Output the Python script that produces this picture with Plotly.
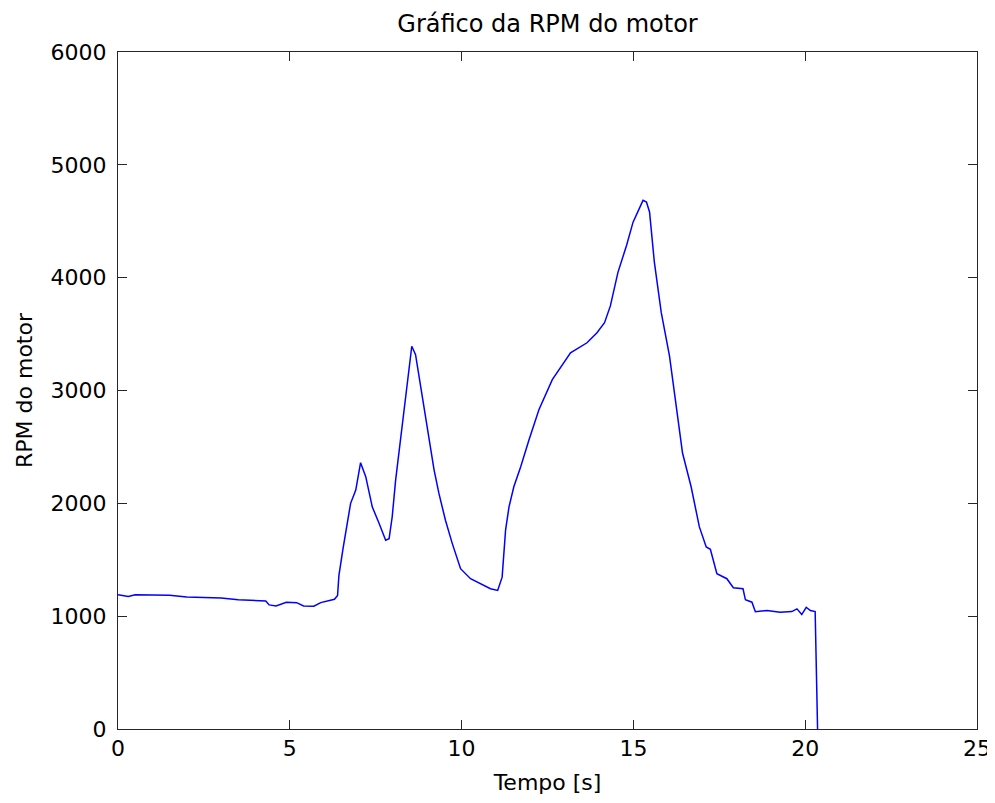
import plotly.graph_objects as go

tempo_s = [0.0, 0.3, 0.5, 1.0, 1.5, 2.0, 2.5, 3.0, 3.5, 4.0, 4.3, 4.4, 4.6, 4.9, 5.2, 5.4, 5.7,
           5.9, 6.1, 6.3, 6.39, 6.43, 6.55, 6.68, 6.77, 6.92, 7.06, 7.21, 7.4, 7.6, 7.79, 7.89,
           7.98, 8.08, 8.23, 8.42, 8.55, 8.66, 8.81, 9.0, 9.2, 9.34, 9.53, 9.73, 9.97, 10.26,
           10.55, 10.84, 11.05, 11.18, 11.28, 11.38, 11.52, 11.72, 11.96, 12.25, 12.64, 12.88,
           13.17, 13.65, 13.94, 14.16, 14.33, 14.55, 14.8, 14.99, 15.28, 15.38, 15.47, 15.61,
           15.81, 16.05, 16.24, 16.43, 16.68, 16.92, 17.12, 17.24, 17.43, 17.72, 17.91, 18.19,
           18.26, 18.45, 18.55, 18.89, 19.27, 19.61, 19.76, 19.9, 20.03, 20.15, 20.29, 20.33,
           20.36]
rpm_motor = [1190, 1175, 1190, 1190, 1185, 1170, 1163, 1160, 1145, 1140, 1135, 1100, 1090,
             1124, 1120, 1090, 1088, 1120, 1135, 1150, 1183, 1361, 1600, 1850, 2000, 2117,
             2360, 2236, 1969, 1821, 1673, 1687, 1879, 2206, 2592, 3096, 3392, 3318, 3036,
             2680, 2295, 2088, 1850, 1643, 1421, 1332, 1287, 1243, 1228, 1346, 1762, 1969,
             2147, 2325, 2562, 2829, 3096, 3200, 3334, 3423, 3512, 3601, 3750, 4047, 4285,
             4492, 4685, 4670, 4582, 4137, 3692, 3306, 2891, 2446, 2147, 1791, 1613, 1593,
             1376, 1332, 1252, 1243, 1145, 1124, 1040, 1050, 1035, 1041, 1065, 1014, 1079,
             1050, 1041, 500, 0]

x_ticks = [0, 5, 10, 15, 20, 25]
y_ticks = [0, 1000, 2000, 3000, 4000, 5000, 6000]

font = dict(family="DejaVu Sans, Liberation Sans, sans-serif", size=22, color="#000000")
title_font = dict(family="DejaVu Sans, Liberation Sans, sans-serif", size=24, color="#000000")

fig = go.Figure()
fig.add_trace(go.Scatter(x=tempo_s, y=rpm_motor, mode="lines",
                         line=dict(color="#0000FF", width=1.5), showlegend=False))

axis_common = dict(showgrid=False, zeroline=False, showline=True, mirror="ticks",
                   linecolor="#262626", linewidth=1, ticks="inside", ticklen=9,
                   tickcolor="#262626", tickwidth=1, tickfont=font, automargin=False)

W, H = 987, 787
fig.update_layout(
    width=W, height=H,
    margin=dict(l=110, r=18, t=44, b=66),
    paper_bgcolor="white", plot_bgcolor="white",
    font=font,
    title=dict(text="Gráfico da RPM do motor", xref="paper", x=0.5, xanchor="center",
               y=1 - 16 / H, yanchor="middle", font=title_font, automargin=False),
    xaxis=dict(range=[0, 25], tickvals=x_ticks,
               title=dict(text="Tempo [s]", font=font, standoff=17), **axis_common),
    yaxis=dict(range=[0, 6000], tickvals=y_ticks, ticklabelstandoff=6,
               title=dict(text="RPM do motor", font=font, standoff=11), **axis_common),
)

fig.write_html("out.html")
